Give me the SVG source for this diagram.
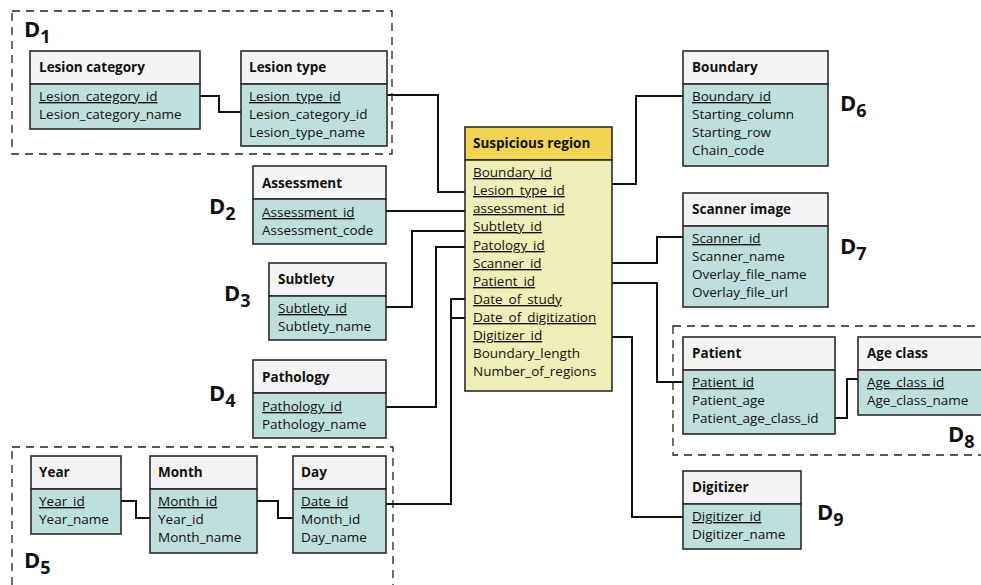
<svg xmlns="http://www.w3.org/2000/svg" width="981" height="585" viewBox="0 0 981 585">
<style>
text{font-family:"Open Sans","Noto Sans","Liberation Sans",sans-serif;fill:#111}
.t{font-size:13.5px;font-weight:bold}
.r{font-size:13.5px}
.u{text-decoration:underline}
.hd{fill:#f4f4f4;stroke:#2b2b2b;stroke-width:1.6}
.bd{fill:#bfdfdc;stroke:#2b2b2b;stroke-width:1.6}
.shd{fill:#f2d452;stroke:#2b2b2b;stroke-width:1.6}
.sbd{fill:#efeeb7;stroke:#2b2b2b;stroke-width:1.6}
.dash{fill:none;stroke:#222;stroke-width:1.3;stroke-dasharray:8,6}
.c{fill:none;stroke:#111;stroke-width:2}
.D{font-size:22px;font-weight:bold}
.Ds{font-size:18px;font-weight:bold}
</style>
<rect width="981" height="585" fill="#fff"/>
<g id="domains">
<rect class="dash" x="12" y="11" width="380" height="143"/>
<rect class="dash" x="12" y="447" width="381" height="150"/>
<rect class="dash" x="673" y="326" width="330" height="129"/>
</g>
<g id="labels">
<text x="24" y="37"><tspan class="D">D</tspan><tspan class="Ds" dy="6">1</tspan></text>
<text x="209" y="214"><tspan class="D">D</tspan><tspan class="Ds" dy="6">2</tspan></text>
<text x="224" y="301"><tspan class="D">D</tspan><tspan class="Ds" dy="6">3</tspan></text>
<text x="209" y="401"><tspan class="D">D</tspan><tspan class="Ds" dy="6">4</tspan></text>
<text x="24" y="568"><tspan class="D">D</tspan><tspan class="Ds" dy="6">5</tspan></text>
<text x="840" y="111"><tspan class="D">D</tspan><tspan class="Ds" dy="6">6</tspan></text>
<text x="840" y="254"><tspan class="D">D</tspan><tspan class="Ds" dy="6">7</tspan></text>
<text x="948" y="442"><tspan class="D">D</tspan><tspan class="Ds" dy="6">8</tspan></text>
<text x="817" y="520"><tspan class="D">D</tspan><tspan class="Ds" dy="6">9</tspan></text>
</g>
<g id="connectors">
<polyline class="c" points="200,96 219,96 219,112 241,112"/>
<polyline class="c" points="387,95 438,95 438,192 465,192"/>
<polyline class="c" points="386,211 465,211"/>
<polyline class="c" points="386,307 412,307 412,231 465,231"/>
<polyline class="c" points="386,407 436,407 436,247 465,247"/>
<polyline class="c" points="465,299 451,299 451,504 386,504"/>
<polyline class="c" points="451,318 465,318"/>
<polyline class="c" points="121,501 136,501 136,518 150,518"/>
<polyline class="c" points="257,501 278,501 278,518 293,518"/>
<polyline class="c" points="612,184 636,184 636,96 683,96"/>
<polyline class="c" points="612,263 657,263 657,237 683,237"/>
<polyline class="c" points="612,283 657,283 657,382 683,382"/>
<polyline class="c" points="835,418 847,418 847,379 858,379"/>
<polyline class="c" points="612,337 632,337 632,517 683,517"/>
</g>
<g id="lesion-category">
<rect class="hd" x="30" y="51" width="170" height="33"/>
<rect class="bd" x="30" y="84" width="170" height="45"/>
<text class="t" x="39" y="72">Lesion category</text>
<text class="r u" x="39" y="101">Lesion_category_id</text>
<text class="r" x="39" y="119">Lesion_category_name</text>
</g>
<g id="lesion-type">
<rect class="hd" x="241" y="51" width="146" height="33"/>
<rect class="bd" x="241" y="84" width="146" height="62"/>
<text class="t" x="249" y="72">Lesion type</text>
<text class="r u" x="249" y="101">Lesion_type_id</text>
<text class="r" x="249" y="119">Lesion_category_id</text>
<text class="r" x="249" y="137">Lesion_type_name</text>
</g>
<g id="assessment">
<rect class="hd" x="253" y="166" width="133" height="33"/>
<rect class="bd" x="253" y="199" width="133" height="45"/>
<text class="t" x="262" y="188">Assessment</text>
<text class="r u" x="262" y="217">Assessment_id</text>
<text class="r" x="262" y="235">Assessment_code</text>
</g>
<g id="subtlety">
<rect class="hd" x="269" y="263" width="117" height="33"/>
<rect class="bd" x="269" y="296" width="117" height="44"/>
<text class="t" x="278" y="284">Subtlety</text>
<text class="r u" x="278" y="313">Subtlety_id</text>
<text class="r" x="278" y="331">Subtlety_name</text>
</g>
<g id="pathology">
<rect class="hd" x="253" y="360" width="133" height="33"/>
<rect class="bd" x="253" y="393" width="133" height="45"/>
<text class="t" x="262" y="382">Pathology</text>
<text class="r u" x="262" y="411">Pathology_id</text>
<text class="r" x="262" y="429">Pathology_name</text>
</g>
<g id="year">
<rect class="hd" x="31" y="456" width="90" height="33"/>
<rect class="bd" x="31" y="489" width="90" height="45"/>
<text class="t" x="39" y="477">Year</text>
<text class="r u" x="39" y="506">Year_id</text>
<text class="r" x="39" y="524">Year_name</text>
</g>
<g id="month">
<rect class="hd" x="150" y="456" width="107" height="33"/>
<rect class="bd" x="150" y="489" width="107" height="64"/>
<text class="t" x="158" y="477">Month</text>
<text class="r u" x="158" y="506">Month_id</text>
<text class="r" x="158" y="524">Year_id</text>
<text class="r" x="158" y="542">Month_name</text>
</g>
<g id="day">
<rect class="hd" x="293" y="456" width="93" height="33"/>
<rect class="bd" x="293" y="489" width="93" height="64"/>
<text class="t" x="301" y="477">Day</text>
<text class="r u" x="301" y="506">Date_id</text>
<text class="r" x="301" y="524">Month_id</text>
<text class="r" x="301" y="542">Day_name</text>
</g>
<g id="suspicious-region">
<rect class="shd" x="465" y="127" width="147" height="33"/>
<rect class="sbd" x="465" y="160" width="147" height="231"/>
<text class="t" x="473" y="148">Suspicious region</text>
<text class="r u" x="473" y="177">Boundary_id</text>
<text class="r u" x="473" y="195">Lesion_type_id</text>
<text class="r u" x="473" y="213">assessment_id</text>
<text class="r u" x="473" y="231">Subtlety_id</text>
<text class="r u" x="473" y="250">Patology_id</text>
<text class="r u" x="473" y="268">Scanner_id</text>
<text class="r u" x="473" y="286">Patient_id</text>
<text class="r u" x="473" y="304">Date_of_study</text>
<text class="r u" x="473" y="322">Date_of_digitization</text>
<text class="r u" x="473" y="340">Digitizer_id</text>
<text class="r" x="473" y="358">Boundary_length</text>
<text class="r" x="473" y="376">Number_of_regions</text>
</g>
<g id="boundary">
<rect class="hd" x="683" y="51" width="145" height="33"/>
<rect class="bd" x="683" y="84" width="145" height="82"/>
<text class="t" x="692" y="72">Boundary</text>
<text class="r u" x="692" y="101">Boundary_id</text>
<text class="r" x="692" y="119">Starting_column</text>
<text class="r" x="692" y="137">Starting_row</text>
<text class="r" x="692" y="155">Chain_code</text>
</g>
<g id="scanner-image">
<rect class="hd" x="683" y="193" width="145" height="33"/>
<rect class="bd" x="683" y="226" width="145" height="81"/>
<text class="t" x="692" y="214">Scanner image</text>
<text class="r u" x="692" y="243">Scanner_id</text>
<text class="r" x="692" y="261">Scanner_name</text>
<text class="r" x="692" y="279">Overlay_file_name</text>
<text class="r" x="692" y="297">Overlay_file_url</text>
</g>
<g id="patient">
<rect class="hd" x="683" y="337" width="152" height="33"/>
<rect class="bd" x="683" y="370" width="152" height="64"/>
<text class="t" x="692" y="358">Patient</text>
<text class="r u" x="692" y="387">Patient_id</text>
<text class="r" x="692" y="405">Patient_age</text>
<text class="r" x="692" y="423">Patient_age_class_id</text>
</g>
<g id="age-class">
<rect class="hd" x="858" y="337" width="140" height="33"/>
<rect class="bd" x="858" y="370" width="140" height="45"/>
<text class="t" x="867" y="358">Age class</text>
<text class="r u" x="867" y="387">Age_class_id</text>
<text class="r" x="867" y="405">Age_class_name</text>
</g>
<g id="digitizer">
<rect class="hd" x="683" y="471" width="118" height="33"/>
<rect class="bd" x="683" y="504" width="118" height="45"/>
<text class="t" x="692" y="492">Digitizer</text>
<text class="r u" x="692" y="521">Digitizer_id</text>
<text class="r" x="692" y="539">Digitizer_name</text>
</g>
</svg>
